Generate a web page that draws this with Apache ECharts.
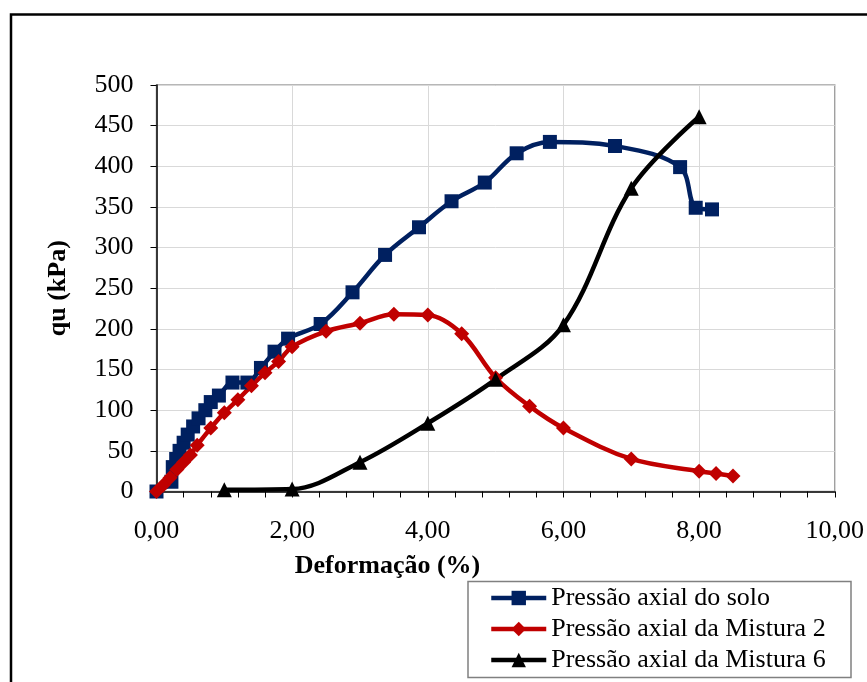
<!DOCTYPE html>
<html>
<head>
<meta charset="utf-8">
<script src="https://cdn.jsdelivr.net/npm/echarts@6/dist/echarts.min.js"></script>
<style>
html,body{margin:0;padding:0;background:#fff;}
#c{width:867px;height:682px;}
</style>
</head>
<body>
<div id="c"></div>
<script>
// ---- data ----
const seriesNames = ['Pressão axial do solo', 'Pressão axial da Mistura 2', 'Pressão axial da Mistura 6'];

const soloX = [0.00, 0.22, 0.24, 0.29, 0.34, 0.40, 0.46, 0.54, 0.62, 0.72, 0.80, 0.92, 1.12, 1.34, 1.54, 1.74, 1.94, 2.42, 2.89, 3.37, 3.87, 4.35, 4.84, 5.31, 5.80, 6.76, 7.72, 7.95, 8.19];
const soloY = [0, 12, 30, 40, 50, 60, 70, 80, 90, 100, 110, 118, 134, 134, 152, 172, 188, 206, 245, 291, 325, 357, 380, 416, 430, 425, 399, 349, 347];

const mist2X = [0.00, 0.10, 0.20, 0.30, 0.40, 0.50, 0.60, 0.80, 1.00, 1.20, 1.40, 1.60, 1.80, 2.00, 2.50, 3.00, 3.50, 4.00, 4.50, 5.00, 5.50, 6.00, 7.00, 8.00, 8.25, 8.50];
const mist2Y = [0, 8, 17, 27, 36, 45, 57, 78, 97, 113, 130, 146, 160, 178, 197, 207, 218, 217, 194, 140, 105, 78, 40, 25, 22, 19];

const mist6X = [1.00, 2.00, 3.00, 4.00, 5.00, 6.00, 7.00, 8.00];
const mist6Y = [2, 3, 36, 84, 138, 205, 373, 461];

const xTickLabels = ['0,00', '2,00', '4,00', '6,00', '8,00', '10,00'];
const yTickLabels = ['0', '50', '100', '150', '200', '250', '300', '350', '400', '450', '500'];

const xTitle = 'Deformação (%)';
const yTitle = 'qu (kPa)';

// ---- chart ----
const pair = (xs, ys) => xs.map((x, i) => [x, ys[i]]);
const FONT = 'Liberation Serif, Times New Roman, serif';

const chart = echarts.init(document.getElementById('c'), null, {renderer: 'canvas'});
const colors = ['#002060', '#C00000', '#000000'];

chart.setOption({
  animation: false,
  backgroundColor: '#ffffff',
  grid: {left: 156.5, right: 30, top: 85, bottom: 190.5, show: true, borderColor: '#a0a0a0', borderWidth: 1.5, backgroundColor: 'transparent'},
  xAxis: {
    type: 'value', min: 0, max: 10, interval: 2,
    axisLine: {show: true, onZero: false, lineStyle: {color: '#000', width: 1.5}},
    axisTick: {show: true, inside: false, length: 6, lineStyle: {color: '#000', width: 1}},
    minorTick: {show: true, splitNumber: 5, length: 6, lineStyle: {color: '#000', width: 1}},
    splitLine: {show: true, lineStyle: {color: '#d9d9d9', width: 1}},
    axisLabel: {margin: 27, color: '#000', fontFamily: FONT, fontSize: 26,
      formatter: v => xTickLabels[Math.round(v / 2)]}
  },
  yAxis: {
    type: 'value', min: 0, max: 500, interval: 50,
    name: yTitle, nameLocation: 'middle', nameGap: 85, nameRotate: 90,
    nameTextStyle: {color: '#000', fontFamily: FONT, fontSize: 26, fontWeight: 'bold'},
    axisLine: {show: true, onZero: false, lineStyle: {color: '#000', width: 1.5}},
    axisTick: {show: true, inside: false, length: 6, lineStyle: {color: '#000', width: 1}},
    splitLine: {show: true, lineStyle: {color: '#d9d9d9', width: 1}},
    axisLabel: {margin: 23, color: '#000', fontFamily: FONT, fontSize: 26,
      formatter: v => yTickLabels[Math.round(v / 50)]}
  },
  legend: {
    orient: 'vertical', left: 489, top: 584, padding: 0,
    itemWidth: 55, itemHeight: 18, itemGap: 3,
    lineStyle: {width: 4.5},
    textStyle: {color: '#000', fontFamily: FONT, fontSize: 26, lineHeight: 28},
    data: seriesNames
  },
  graphic: [
    {type: 'rect', shape: {x: 11, y: 14.5, width: 900, height: 720}, style: {fill: 'none', stroke: '#000', lineWidth: 2.5}, silent: true, z: 100},
    {type: 'rect', shape: {x: 468, y: 581.5, width: 383, height: 96}, style: {fill: 'none', stroke: '#808080', lineWidth: 1.5}, silent: true, z: 100},
    {type: 'text', x: 387.5, y: 566, style: {text: xTitle, fill: '#000', font: 'bold 26px ' + FONT, textAlign: 'center', textVerticalAlign: 'middle'}, z: 100}
  ],
  series: [
    {name: seriesNames[0], type: 'line', data: pair(soloX, soloY), smooth: 0.35,
      symbol: 'rect', symbolSize: 14, color: colors[0],
      lineStyle: {width: 4.5, color: colors[0]}, itemStyle: {color: colors[0]}},
    {name: seriesNames[1], type: 'line', data: pair(mist2X, mist2Y), smooth: 0.35,
      symbol: 'diamond', symbolSize: 15, color: colors[1],
      lineStyle: {width: 4.5, color: colors[1]}, itemStyle: {color: colors[1]}},
    {name: seriesNames[2], type: 'line', data: pair(mist6X, mist6Y), smooth: 0.35,
      symbol: 'triangle', symbolSize: 15, color: colors[2],
      lineStyle: {width: 4.5, color: colors[2]}, itemStyle: {color: colors[2]}}
  ]
});
</script>
</body>
</html>
